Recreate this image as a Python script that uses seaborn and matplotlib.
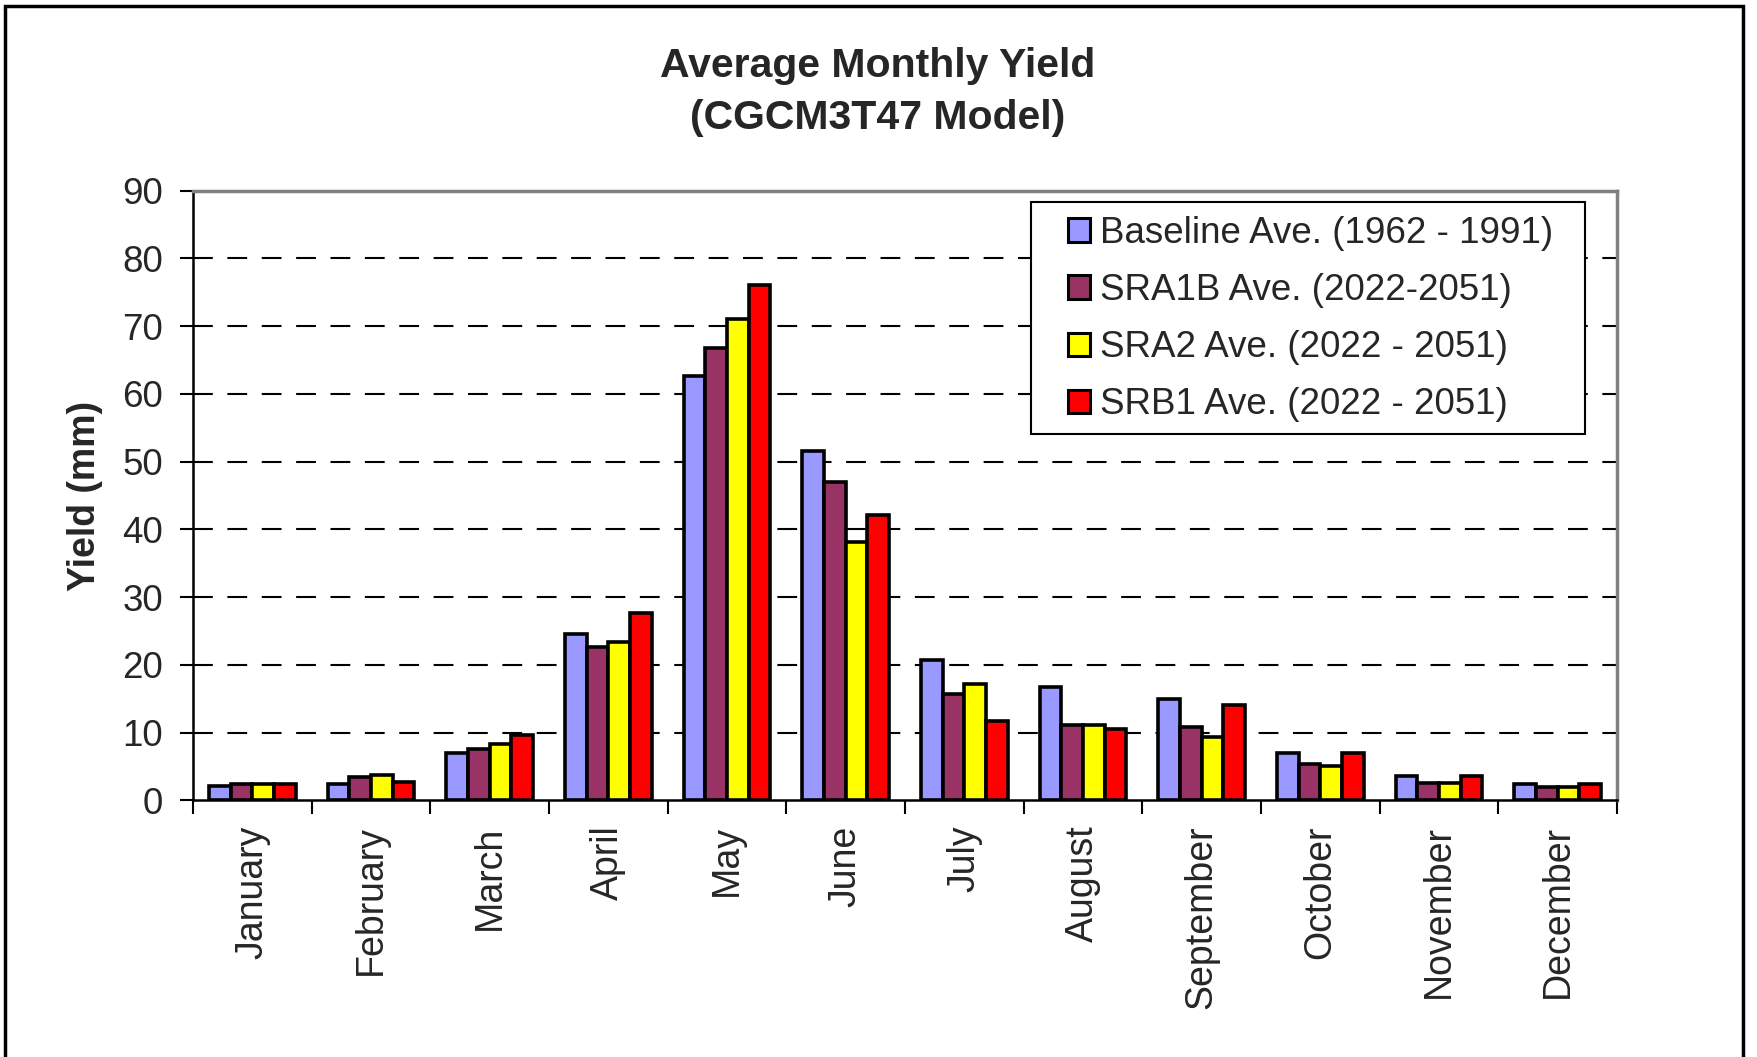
import matplotlib
matplotlib.use("Agg")
import matplotlib.pyplot as plt
import seaborn as sns
import pandas as pd
from matplotlib.patches import Patch, Rectangle

months = ["January", "February", "March", "April", "May", "June", "July",
          "August", "September", "October", "November", "December"]
series_names = ["Baseline Ave. (1962 - 1991)", "SRA1B Ave. (2022-2051)",
                "SRA2 Ave. (2022 - 2051)", "SRB1 Ave. (2022 - 2051)"]
baseline = [2.1, 2.5, 7.0, 24.5, 62.6, 51.5, 20.7, 16.8, 15.0, 7.0, 3.6, 2.4]
sra1b = [2.5, 3.4, 7.6, 22.6, 66.8, 47.0, 15.7, 11.1, 10.8, 5.4, 2.6, 2.0]
sra2 = [2.5, 3.7, 8.4, 23.4, 71.1, 38.2, 17.2, 11.1, 9.3, 5.1, 2.6, 2.0]
srb1 = [2.5, 2.7, 9.7, 27.7, 76.1, 42.1, 11.8, 10.6, 14.1, 7.0, 3.6, 2.4]
colors = ["#9999FF", "#993366", "#FFFF00", "#FF0000"]
yticks = [0, 10, 20, 30, 40, 50, 60, 70, 80, 90]

rows = []
for name, vals in zip(series_names, [baseline, sra1b, sra2, srb1]):
    for m, v in zip(months, vals):
        rows.append({"Month": m, "Series": name, "Yield": v})
df = pd.DataFrame(rows)

sns.set_style("white")
plt.rcParams["font.family"] = ["Liberation Sans", "DejaVu Sans"]

fig = plt.figure(figsize=(17.58, 10.57), dpi=100)
ax = fig.add_axes([0.1098, 0.2427, 0.9198 - 0.1098, 0.8197 - 0.2427])

sns.barplot(data=df, x="Month", y="Yield", hue="Series", order=months,
            hue_order=series_names, palette=colors, width=0.73,
            saturation=1, edgecolor="black", linewidth=2.6, ax=ax,
            errorbar=None, legend=False, zorder=3)
for p in ax.patches:
    p.set_linewidth(2.6)
    p.set_edgecolor("black")

ax.set_ylim(0, 90)
ax.set_xlim(-0.5, 11.5)
ax.set_yticks(yticks)
ax.set_yticklabels([str(t) for t in yticks], fontsize=26.5)
ax.set_xticks(range(12))
ax.set_xticklabels(months, rotation=90, fontsize=27)
ax.tick_params(axis="x", length=0, pad=18)
ax.tick_params(axis="y", length=9.5, width=1.5, left=True, pad=12,
               color="black")
# category boundary ticks
ax.set_xticks([i - 0.5 for i in range(13)], minor=True)
ax.tick_params(axis="x", which="minor", length=10, width=1.5, bottom=True,
               direction="out", color="black")

for y in yticks[1:-1]:
    ax.axhline(y, color="black", lw=1.5, ls=(0, (9.5, 7)), zorder=1)

ax.set_xlabel("")
ax.set_ylabel("Yield (mm)", fontsize=27, fontweight="bold", labelpad=14)

for s in ["left", "bottom"]:
    ax.spines[s].set_color("black")
    ax.spines[s].set_linewidth(1.8)
for s in ["top", "right"]:
    ax.spines[s].set_color("#808080")
    ax.spines[s].set_linewidth(2.5)

# legend box (frame drawn separately for Excel-like padding)
ax.add_patch(Rectangle((1031.5 / 1758, 1 - 434 / 1057),
                       (1585 - 1031.5) / 1758, (434 - 202) / 1057,
                       transform=fig.transFigure, facecolor="white",
                       edgecolor="black", linewidth=1.5, zorder=4,
                       clip_on=False))
handles = [Patch(facecolor=c, edgecolor="black", linewidth=2.2) for c in colors]
leg = ax.legend(handles, series_names, loc="upper left",
                bbox_to_anchor=(1068 / 1758, 1 - 216 / 1057),
                bbox_transform=fig.transFigure,
                fontsize=26.5, frameon=False, borderaxespad=0, borderpad=0,
                handlelength=0.6, handleheight=0.6, handletextpad=0.28,
                labelspacing=0.6)
leg.set_zorder(6)

fig.text(0.4995, 1 - 66 / 1057, "Average Monthly Yield", ha="center",
         va="center", fontsize=29.5, fontweight="bold")
fig.text(0.4995, 1 - 118 / 1057, "(CGCM3T47 Model)", ha="center",
         va="center", fontsize=29.5, fontweight="bold")

fig.patches.append(Rectangle((5 / 1758, -0.05), (1743 - 5) / 1758,
                             1.05 - 6 / 1057, transform=fig.transFigure,
                             fill=False, edgecolor="black", linewidth=2.5))

fig.savefig("out.png", dpi=100, facecolor="white")
